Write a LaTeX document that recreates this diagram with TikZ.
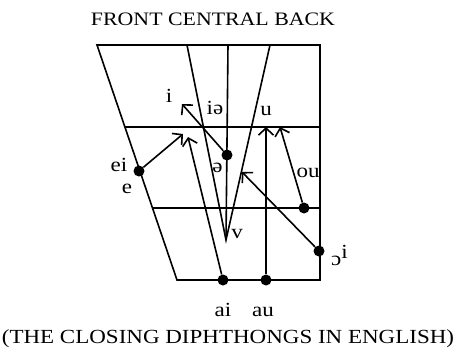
\documentclass[tikz,border=0pt]{standalone}
\usepackage{fontspec}
\setmainfont{Liberation Serif}[FakeStretch=1.15]
\usetikzlibrary{arrows.meta}
\begin{document}
\begin{tikzpicture}[x=1pt,y=-1pt,>={Straight Barb[length=7pt,width=15pt]},
  every node/.style={font=\fontsize{20}{24}\selectfont,inner sep=0pt},
  dot/.style={circle,fill,inner sep=0pt,minimum size=11pt},
  grid/.style={line width=1.6pt},
  glide/.style={->,line width=1.6pt}]
\useasboundingbox (0,0) rectangle (456,354);
% vowel chart
\draw[grid] (97,45) -- (320,45) -- (320,280) -- (177,280) -- cycle;
\draw[grid] (125,127) -- (320,127);
\draw[grid] (152.5,208) -- (320,208);
\coordinate (v) at (226,240);
\draw[grid] (187,45) -- (v) -- (270,45);
\draw[grid] (228,45) -- (v);
% starting points
\node[dot] (ei) at (139,171) {};
\node[dot] (schwa) at (227,155) {};
\node[dot] (ou) at (304,208) {};
\node[dot] (oi) at (319,251) {};
\node[dot] (ai) at (223,280) {};
\node[dot] (au) at (266,280) {};
% glide targets
\coordinate (eiend) at (183,134);
\coordinate (aiend) at (188,137);
\coordinate (auend) at (266,127);
\coordinate (ouend) at (280,127);
\coordinate (oiend) at (242,172);
\coordinate (schwaend) at (182,104);
\draw[glide] (ei) -- (eiend);
\draw[glide] (ai) -- (aiend);
\draw[glide] (au) -- (auend);
\draw[glide] (ou) -- (ouend);
\draw[glide] (oi) -- (oiend);
\draw[glide] (schwa) -- (schwaend);
% labels
\node[anchor=base,font=\fontsize{19}{22}\selectfont] (title) at (213,25) {FRONT CENTRAL BACK};
\node[anchor=base] (li) at (169,102) {i};
\node[anchor=base] (liə) at (215,114) {iə};
\node[anchor=base] (lu) at (266,115) {u};
\node[anchor=base] (lei) at (119,171) {ei};
\node[anchor=base] (le) at (127,193) {e};
\node[anchor=base] (lschwa) at (217.5,172) {ə};
\node[anchor=base] (lou) at (308,177) {ou};
\node[anchor=base] (lv) at (237,238) {v};
\node[anchor=base west] (loi) at (331,265) {ɔ\raisebox{7pt}{i}};
\node[anchor=base] (lai) at (223,316) {ai};
\node[anchor=base] (lau) at (263,316) {au};
\node[anchor=base] (caption) at (228,343) {(THE CLOSING DIPHTHONGS IN ENGLISH)};
\end{tikzpicture}
\end{document}
